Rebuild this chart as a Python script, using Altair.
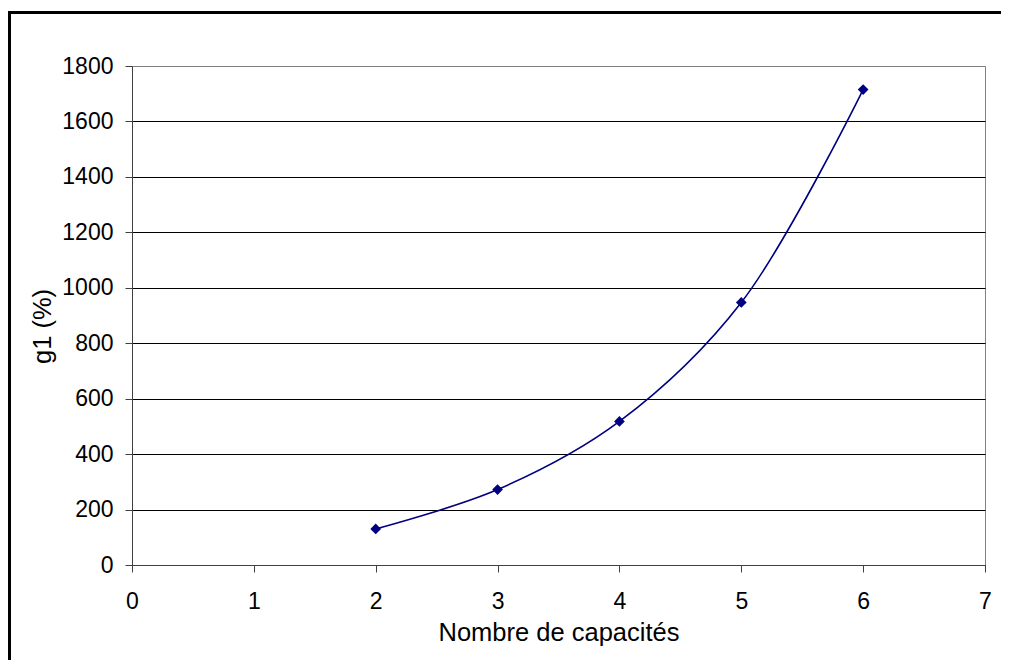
import altair as alt
import pandas as pd

# Data
capacites = [2, 3, 4, 5, 6]
g1 = [130, 272, 518, 947, 1715]
x_ticks = [0, 1, 2, 3, 4, 5, 6, 7]
y_ticks = [0, 200, 400, 600, 800, 1000, 1200, 1400, 1600, 1800]

df = pd.DataFrame({"n": capacites, "g1": g1})
frame_df = pd.DataFrame({"k": [0]})

FONT = "Liberation Sans"
NAVY = "#000080"

x_enc = alt.X(
    "n:Q",
    scale=alt.Scale(domain=[0, 7], nice=False, zero=False),
    axis=alt.Axis(
        values=x_ticks,
        format="d",
        grid=False,
        title="Nombre de capacités",
        titleFont=FONT,
        titleFontSize=25.5,
        titleFontWeight="normal",
        titleColor="black",
        titleX=426.5,
        titleY=75,
        titleAlign="center",
        titleBaseline="alphabetic",
        labelFont=FONT,
        labelFontSize=23,
        labelColor="black",
        labelPadding=18,
        labelBaseline="top",
        tickSize=7,
        tickColor="#404040",
        domainColor="#404040",
        labelFlush=False,
    ),
)

y_enc = alt.Y(
    "g1:Q",
    scale=alt.Scale(domain=[0, 1800], nice=False),
    axis=alt.Axis(
        values=y_ticks,
        format="d",
        grid=True,
        gridColor={"condition": {"test": "datum.value == 1800", "value": "#808080"}, "value": "black"},
        gridWidth=1,
        title="g1 (%)",
        titleFont=FONT,
        titleFontSize=25.5,
        titleFontWeight="normal",
        titleColor="black",
        titleAngle=-90,
        titleX=-82,
        titleY=260,
        titleAlign="center",
        titleBaseline="alphabetic",
        labelFont=FONT,
        labelFontSize=23,
        labelColor="black",
        labelPadding=12,
        labelBaseline="middle",
        tickSize=7,
        tickColor="#404040",
        domainColor="#404040",
        labelFlush=False,
    ),
)

line = alt.Chart(df).mark_line(
    interpolate="catmull-rom", color=NAVY, strokeWidth=1.6
).encode(x=x_enc, y=y_enc)

points = alt.Chart(df).mark_point(
    shape="diamond", filled=True, size=115, color=NAVY, opacity=1
).encode(x="n:Q", y="g1:Q")

# outer black frame (left and top edges visible; right/bottom are off-page)
frame_left = alt.Chart(frame_df).mark_rule(color="black", strokeWidth=3).encode(
    x=alt.value(-122.5), y=alt.value(-55), y2=alt.value(620)
)
frame_top = alt.Chart(frame_df).mark_rule(color="black", strokeWidth=3).encode(
    x=alt.value(-124), x2=alt.value(900), y=alt.value(-53.5)
)

chart = (
    alt.layer(line, points, frame_left, frame_top)
    .properties(
        width=853,
        height=499,
        autosize=alt.AutoSizeParams(type="none"),
        padding={"left": 124, "top": 58, "right": 16, "bottom": 95},
        background="white",
    )
    .configure_view(stroke="#808080", strokeWidth=1)
)

chart.save("out.html", embed_options={"renderer": "svg", "actions": False})
